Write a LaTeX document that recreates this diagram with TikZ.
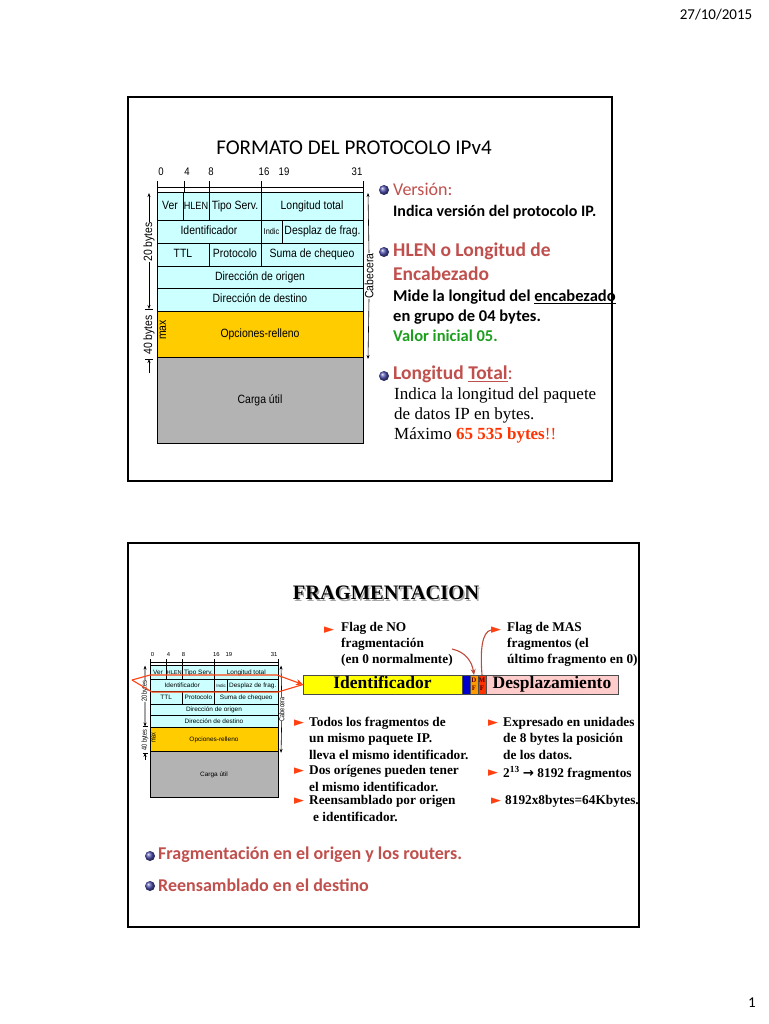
\documentclass[tikz,border=0pt]{standalone}
\usepackage{fontspec}
\setmainfont{Liberation Serif}
\newfontfamily\calib{Carlito}
\newfontfamily\tabf[FakeStretch=0.87]{Liberation Sans}
\newfontfamily\dejavu{DejaVu Sans}
\usetikzlibrary{arrows.meta,shadings}
\definecolor{cyanc}{HTML}{CCFFFF}
\definecolor{orac}{HTML}{FFCC00}
\definecolor{grayc}{HTML}{B3B3B3}
\definecolor{rb}{HTML}{C0504D}
\definecolor{grn}{HTML}{1E9E1E}
\definecolor{redt}{HTML}{FF3300}
\definecolor{tric}{HTML}{FF4010}
\definecolor{ylw}{HTML}{FFFF00}
\definecolor{pnk}{HTML}{FFCCCC}
\definecolor{blu}{HTML}{0000CC}
\definecolor{dfc}{HTML}{FF9900}
\definecolor{mfc}{HTML}{FF3300}
\definecolor{sph}{HTML}{5050B0}
\definecolor{arrc}{HTML}{C04A3A}
\tikzset{
  cellst/.style={draw=black, line width=0.7pt, inner sep=0pt, outer sep=0pt, text height=8.6pt, text depth=2.2pt, font=\tabf\fontsize{12}{12}\selectfont},
  tx/.style={anchor=west, inner sep=0pt},
  rl/.style={inner sep=0pt, font=\tabf\fontsize{11}{11}\selectfont},
  t2/.style={tx, font=\bfseries\fontsize{13.3}{16}\selectfont},
  tri/.style={tx, font=\dejavu\fontsize{13}{13}\selectfont, text=tric},
  sa/.style={-{Stealth[length=4pt,width=3pt]}, line width=0.6pt},
}
\newcommand\ipcell[7]{\node[cellst, fill=#6, minimum width={(#4-#2)*1pt}, minimum height={(#5-#3)*1pt}] (#1) at ({(#2+#4)/2},{(#3+#5)/2}) {#7};}
\newcommand\iptable[1]{%
  \draw[line width=0.8pt] (157,187) -- (363,187);
  \foreach \xx in {157,184,209,261,363} {\draw[line width=0.8pt] (\xx,181) -- (\xx,193);}
  \node[rl] (#1b0) at (161,172) {0};
  \node[rl] (#1b4) at (187,172) {4};
  \node[rl] (#1b8) at (211,172) {8};
  \node[rl] (#1b16) at (264,172) {16};
  \node[rl] (#1b19) at (284,172) {19};
  \node[rl] (#1b31) at (357,172) {31};
  \ipcell{#1ver}{157}{192}{183}{220}{cyanc}{Ver}
  \ipcell{#1hlen}{183}{192}{209}{220}{cyanc}{\fontsize{10.5}{10.5}\selectfont HLEN}
  \ipcell{#1tipo}{209}{192}{261}{220}{cyanc}{Tipo Serv.}
  \ipcell{#1ltot}{261}{192}{363}{220}{cyanc}{Longitud total}
  \ipcell{#1ident}{157}{220}{261}{243}{cyanc}{Identificador}
  \ipcell{#1indic}{261}{220}{282}{243}{cyanc}{\fontsize{8.5}{8.5}\selectfont Indic}
  \ipcell{#1despl}{282}{220}{363}{243}{cyanc}{Desplaz de frag.}
  \ipcell{#1ttl}{157}{243}{209}{266}{cyanc}{TTL}
  \ipcell{#1proto}{209}{243}{261}{266}{cyanc}{Protocolo}
  \ipcell{#1suma}{261}{243}{363}{266}{cyanc}{Suma de chequeo}
  \ipcell{#1orig}{157}{266}{363}{288}{cyanc}{Dirección de origen}
  \ipcell{#1dest}{157}{288}{363}{311}{cyanc}{Dirección de destino}
  \ipcell{#1opc}{157}{311}{363}{357}{orac}{Opciones-relleno}
  \ipcell{#1carga}{157}{357}{363}{443}{grayc}{Carga útil}
  \node[rl, rotate=90, font=\tabf\fontsize{12}{12}\selectfont] (#1l20) at (149,242) {20 bytes};
  \node[rl, rotate=90, font=\tabf\fontsize{12}{12}\selectfont] (#1l40) at (149,335) {40 bytes};
  \node[rl, rotate=90, font=\tabf\fontsize{12}{12}\selectfont] (#1max) at (163,330) {max};
  \node[rl, rotate=90, font=\tabf\fontsize{12}{12}\selectfont] (#1cab) at (369,276) {Cabecera};
  \draw[sa] (#1l20.east) -- (149,193);
  \draw[sa] (#1l20.west) -- (149,309);
  \draw[line width=0.6pt] (145,309) -- (153,309);
  \draw[sa] (149,373) -- (149,359);
  \draw[line width=0.6pt] (145,359) -- (153,359);
  \draw[sa] (#1cab.east) -- (368,193);
  \draw[sa] (#1cab.west) -- (368,359);
}
\begin{document}
\begin{tikzpicture}[x=1pt,y=-1pt]
\useasboundingbox (0,0) rectangle (768,1024);
\fill[white] (0,0) rectangle (768,1024);
\node[font=\calib\fontsize{15}{15}\selectfont, inner sep=0pt] (date) at (716,15) {27/10/2015};
\node[font=\calib\fontsize{15}{15}\selectfont, inner sep=0pt] (pg) at (752,1003) {1};

% ---------- slide 1 ----------
\draw[line width=1.3pt] (128,97) rectangle (612,481);
\node[font=\calib\fontsize{21}{21}\selectfont, inner sep=0pt] (t1) at (354,148) {FORMATO DEL PROTOCOLO IPv4};
\iptable{a}

\shade[ball color=sph] (384,190) circle (5pt);
\shade[ball color=sph] (384,252) circle (5pt);
\shade[ball color=sph] (384,376) circle (5pt);
\node[tx, font=\calib\fontsize{18}{18}\selectfont, text=rb] (v1) at (393,189) {Versión:};
\node[tx, font=\calib\bfseries\fontsize{16}{16}\selectfont] (v2) at (393,212) {Indica versión del protocolo IP.};
\node[tx, font=\calib\bfseries\fontsize{19.5}{19.5}\selectfont, text=rb] (h1) at (393,251) {HLEN o Longitud de};
\node[tx, font=\calib\bfseries\fontsize{19.5}{19.5}\selectfont, text=rb] (h2) at (393,274) {Encabezado};
\node[tx, font=\calib\bfseries\fontsize{16.5}{16.5}\selectfont] (h3) at (393,297) {Mide la longitud del \underline{encabezado}};
\node[tx, font=\calib\bfseries\fontsize{16.5}{16.5}\selectfont] (h4) at (393,317) {en grupo de 04 bytes.};
\node[tx, font=\calib\bfseries\fontsize{16.5}{16.5}\selectfont, text=grn] (h5) at (393,336) {Valor inicial 05.};
\node[tx, font=\calib\bfseries\fontsize{19.5}{19.5}\selectfont, text=rb] (l1) at (393,374) {Longitud \underline{Total}{\mdseries:}};
\node[tx, font=\fontsize{17}{17}\selectfont] (l2) at (394,395) {Indica la longitud del paquete};
\node[tx, font=\fontsize{17}{17}\selectfont] (l3) at (394,415) {de datos IP en bytes.};
\node[tx, font=\fontsize{17}{17}\selectfont] (l4) at (394,435) {Máximo \textcolor{redt}{\bfseries 65 535 bytes}\textcolor{redt}{!!}};

% ---------- slide 2 ----------
\draw[line width=1.3pt] (128,543) rectangle (639,927);
\node[font=\bfseries\fontsize{20.5}{20.5}\selectfont, text=gray!70, inner sep=0pt] (t2s) at (387.5,594.5) {FRAGMENTACION};
\node[font=\bfseries\fontsize{20.5}{20.5}\selectfont, inner sep=0pt] (t2) at (386,593) {FRAGMENTACION};

\begin{scope}[shift={(150,665)}, xscale=0.621, yscale=0.526, shift={(-157,-192)}, transform shape]
\iptable{b}
\end{scope}

% bar
\tikzset{barst/.style={draw=black!70, line width=0.6pt, inner sep=0pt, outer sep=0pt, minimum height=19pt, text height=12pt, text depth=3.5pt, font=\bfseries\fontsize{17.5}{17.5}\selectfont}}
\node[barst, fill=ylw, minimum width=159pt] (idb) at (382.5,684.5) {Identificador};
\node[barst, fill=blu, minimum width=8pt] (nb) at (466,684.5) {};
\node[draw=black!70, line width=0.6pt, inner sep=0pt, outer sep=0pt, minimum height=19pt, fill=dfc, minimum width=8pt, font=\bfseries\fontsize{7}{8}\selectfont, text=black!60!red, align=center] (df) at (474,684.5) {D\\F};
\node[draw=black!70, line width=0.6pt, inner sep=0pt, outer sep=0pt, minimum height=19pt, fill=mfc, minimum width=8pt, font=\bfseries\fontsize{7}{8}\selectfont, text=black!70!red, align=center] (mf) at (482,684.5) {M\\F};
\node[barst, fill=pnk, minimum width=132pt] (desb) at (552,684.5) {Desplazamiento};

% red outline to bar
\coordinate (lt) at (132,680);
\draw[tric, line width=1.1pt, -{Stealth[length=7pt,width=6pt]}] (lt) -- (150,675) -- (277,675) -- (idb.west);
\draw[tric, line width=1.1pt] (lt) -- (152,692) -- (278,692) -- (idb.west);

% flags
\node[tri] (ft1) at (324,630) {►};
\node[tx, anchor=north west, align=left, font=\bfseries\fontsize{13.3}{16}\selectfont] (fno) at (341,622) {Flag de NO\\fragmentación\\(en 0 normalmente)};
\node[tri] (ft2) at (491,630) {►};
\node[tx, anchor=north west, align=left, font=\bfseries\fontsize{13.3}{16}\selectfont] (fmas) at (507,622) {Flag de MAS\\fragmentos (el\\último fragmento en 0)};
\coordinate (nfs) at (452,649);
\draw[arrc, line width=1.1pt, -{Stealth[length=6pt,width=5pt]}] (nfs) .. controls (466,652) and (472,662) .. (df.north);
\draw[arrc, line width=1.1pt] (mf.north) .. controls (480,650) and (482,632) .. (ft2.west);

% bullets
\node[tri] (bl1) at (294,723) {►};
\node[t2] (a1) at (309,723) {Todos los fragmentos de};
\node[t2] (a2) at (309,739) {un mismo paquete IP.};
\node[t2] (a3) at (309,755) {lleva el mismo identificador.};
\node[tri] (bl2) at (294,771) {►};
\node[t2] (a4) at (309,771) {Dos orígenes pueden tener};
\node[t2] (a5) at (309,787) {el mismo identificador.};
\node[tri] (bl3) at (294,801) {►};
\node[t2] (a6) at (309,801) {Reensamblado por origen};
\node[t2] (a7) at (313,817) {e identificador.};
\node[tri] (br1) at (488,723) {►};
\node[t2] (c1) at (503,723) {Expresado en unidades};
\node[t2] (c2) at (503,739) {de 8 bytes la posición};
\node[t2] (c3) at (503,755) {de los datos.};
\node[tri] (br2) at (488,773) {►};
\node[t2] (c4) at (503,773) {2\textsuperscript{13} {\dejavu\bfseries →} 8192 fragmentos};
\node[tri] (br3) at (491,801) {►};
\node[t2] (c5) at (505,801) {8192x8bytes=64Kbytes.};

\shade[ball color=sph] (150,856) circle (5pt);
\shade[ball color=sph] (150,886) circle (5pt);
\node[tx, font=\calib\bfseries\fontsize{18}{18}\selectfont, text=rb] (f1) at (158,855) {Fragmentación en el origen y los routers.};
\node[tx, font=\calib\bfseries\fontsize{18}{18}\selectfont, text=rb] (f2) at (158,885) {Reensamblado en el destino};
\end{tikzpicture}
\end{document}
